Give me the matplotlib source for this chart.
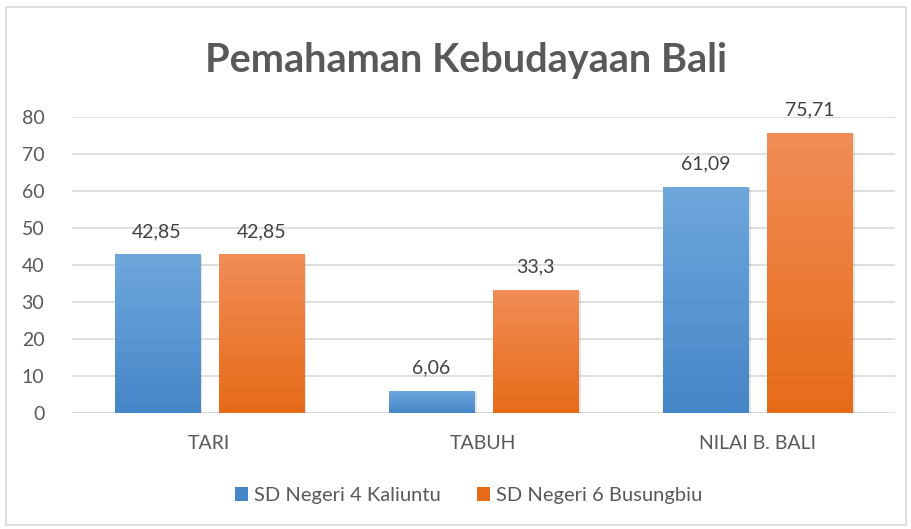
import matplotlib
matplotlib.use("Agg")
import matplotlib.pyplot as plt
import numpy as np
from matplotlib.patches import Rectangle
from matplotlib.colors import LinearSegmentedColormap

categories = ["TARI", "TABUH", "NILAI B. BALI"]
series_names = ["SD Negeri 4 Kaliuntu", "SD Negeri 6 Busungbiu"]
kaliuntu = [42.85, 6.06, 61.09]
busungbiu = [42.85, 33.3, 75.71]
labels_k = ["42,85", "6,06", "61,09"]
labels_b = ["42,85", "33,3", "75,71"]
yticks = [0, 10, 20, 30, 40, 50, 60, 70, 80]

plt.rcParams['font.family'] = ['Lato', 'DejaVu Sans']

fig = plt.figure(figsize=(9.12, 5.29), dpi=100)
ax = fig.add_axes([0.079, 0.219, 0.902, 0.56])

x = np.arange(len(categories))
w = 0.31
off = 0.19
grads = [("#6FA7DC", "#4586C8"), ("#F18D57", "#E66B18")]
series = [kaliuntu, busungbiu]
labs = [labels_k, labels_b]

ax.set_xlim(-0.5, 2.5)
ax.set_ylim(0, 80)
ax.set_axisbelow(True)
ax.grid(axis='y', color='#D9D9D9', linewidth=1.2)
ax.set_yticks(yticks)
ax.set_xticks(x)
ax.set_xticklabels(categories)
ax.tick_params(axis='both', length=0, labelsize=14, colors='#595959')
ax.tick_params(axis='y', pad=20)
ax.tick_params(axis='x', pad=16)
for s in ax.spines.values():
    s.set_visible(False)
ax.axhline(0, color='#D9D9D9', linewidth=1.2, zorder=1)

for i, (vals, (ctop, cbot), lb) in enumerate(zip(series, grads, labs)):
    cmap = LinearSegmentedColormap.from_list("g%d" % i, [cbot, ctop])
    pos = x + (-off if i == 0 else off)
    bars = ax.bar(pos, vals, width=w, color='none', edgecolor='none', zorder=3)
    for b, v, t in zip(bars, vals, lb):
        x0 = b.get_x()
        ax.add_patch(Rectangle((x0 + 0.004, -0.3), w + 0.006, v, facecolor='#000000',
                               alpha=0.10, edgecolor='none', zorder=2))
        grad = np.linspace(0, 1, 256).reshape(-1, 1)
        im = ax.imshow(grad, cmap=cmap, aspect='auto', origin='lower',
                       extent=[x0, x0 + w, 0, v], zorder=3)
        im.set_clip_path(b)
        ax.text(b.get_x() + w / 2, v + 3.8, t, ha='center', va='bottom',
                fontsize=14, color='#404040', zorder=4)
ax.set_xlim(-0.5, 2.5)
ax.set_ylim(0, 80)

fig.text(0.511, 0.885, "Pemahaman Kebudayaan Bali", ha='center', va='center',
         fontsize=28.5, fontweight='bold', color='#595959')

handles = [Rectangle((0, 0), 1, 1, facecolor=grads[0][1]),
           Rectangle((0, 0), 1, 1, facecolor=grads[1][1])]
fig.legend(handles, series_names, loc='center', bbox_to_anchor=(0.514, 0.063),
           ncol=2, frameon=False, fontsize=14.5, labelcolor='#595959',
           handlelength=0.65, handleheight=0.65, handletextpad=0.3, columnspacing=1.8)

fig.patches.append(Rectangle((0.007, 0.008), 0.986, 0.978, transform=fig.transFigure,
                             fill=False, edgecolor='#D9D9D9', linewidth=1.2))

fig.savefig("out.png", dpi=100)
